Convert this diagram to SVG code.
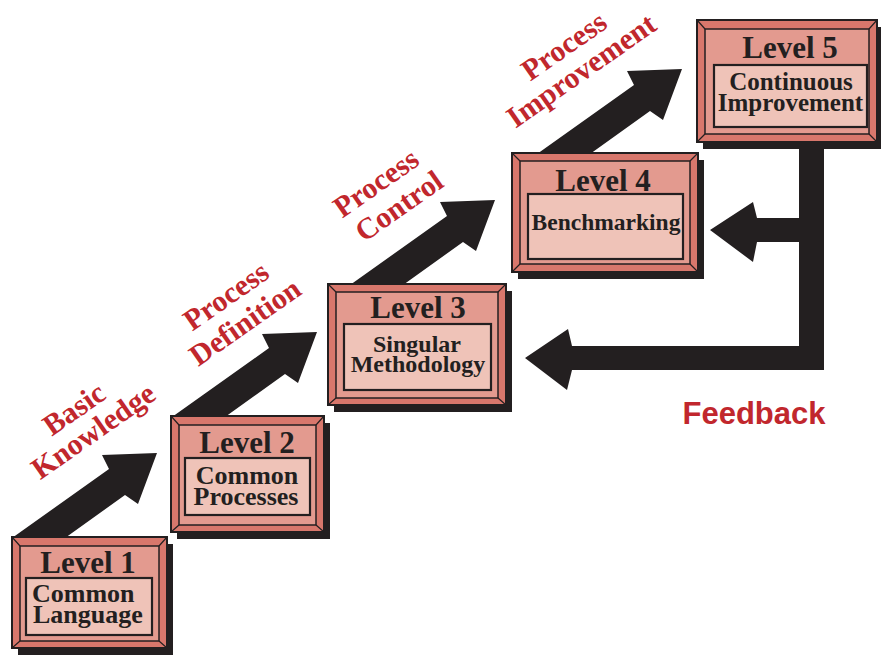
<svg xmlns="http://www.w3.org/2000/svg" width="881" height="656" viewBox="0 0 881 656">
<style>
.dark{fill:#231f20}
.frame{fill:#d8776c;stroke:#231f20;stroke-width:2}
.panel{fill:#e39a8f;stroke:#231f20;stroke-width:1.5}
.tbox{fill:#efc3b8;stroke:#231f20;stroke-width:2.2}
.bev{stroke:#231f20;stroke-width:1.2}
.title{font-family:"Liberation Serif","Times New Roman",serif;font-weight:bold;font-size:31px;fill:#231f20;text-anchor:middle}
.sub{font-family:"Liberation Serif","Times New Roman",serif;font-weight:bold;fill:#231f20;text-anchor:middle}
.lab{font-family:"Liberation Serif","Times New Roman",serif;font-weight:bold;font-size:30px;fill:#c1272d;text-anchor:middle}
.fb{font-family:"Liberation Sans",Arial,sans-serif;font-weight:bold;font-size:31px;fill:#c1272d;text-anchor:middle}
</style>
<defs>
<polygon id="stepArrow" points="0,0 97,-69 90,-83 145,-85 126,-34 113,-43 53,0"/>
</defs>
<rect width="881" height="656" fill="#ffffff"/>

<g id="connectors" class="dark">
<use href="#stepArrow" transform="translate(12,538)"/>
<use href="#stepArrow" transform="translate(172,417)"/>
<use href="#stepArrow" transform="translate(350,285)"/>
<use href="#stepArrow" transform="translate(537,154)"/>
<path id="feedback" d="M799,142 H824 V370 H572 L567,390 L525,358 L568,329 L572,346 H799 V242 H757 L753,262 L710,230 L753,202 L757,218 H799 Z"/>
</g>

<g id="level1">
<rect class="dark" x="18" y="544" width="155" height="111"/>
<rect class="frame" x="12" y="537" width="155" height="111"/>
<rect class="panel" x="20" y="546" width="139" height="95"/>
<path class="bev" d="M12,537 L20,546 M167,537 L159,546 M12,648 L20,641 M167,648 L159,641"/>
<rect class="tbox" x="26" y="578" width="126" height="57"/>
<text class="title" x="88" y="573">Level 1</text>
<text class="sub" style="text-anchor:start" x="32" y="601.5" font-size="26">Common</text>
<text class="sub" style="text-anchor:start" x="33" y="622.5" font-size="26">Language</text>
</g>

<g id="level2">
<rect class="dark" x="177" y="423" width="153" height="116"/>
<rect class="frame" x="171" y="416" width="153" height="116"/>
<rect class="panel" x="179" y="425" width="137" height="100"/>
<path class="bev" d="M171,416 L179,425 M324,416 L316,425 M171,532 L179,525 M324,532 L316,525"/>
<rect class="tbox" x="185" y="458" width="125" height="57"/>
<text class="title" x="247" y="453">Level 2</text>
<text class="sub" x="247" y="484" font-size="26">Common</text>
<text class="sub" x="246" y="504.5" font-size="26">Processes</text>
</g>

<g id="level3">
<rect class="dark" x="334" y="291" width="178" height="121"/>
<rect class="frame" x="328" y="284" width="178" height="121"/>
<rect class="panel" x="336" y="292" width="162" height="106"/>
<path class="bev" d="M328,284 L336,292 M506,284 L498,292 M328,405 L336,398 M506,405 L498,398"/>
<rect class="tbox" x="344" y="324" width="147" height="66"/>
<text class="title" x="418" y="318">Level 3</text>
<text class="sub" x="417" y="352" font-size="24">Singular</text>
<text class="sub" x="418" y="371.5" font-size="24">Methodology</text>
</g>

<g id="level4">
<rect class="dark" x="518" y="160" width="186" height="119"/>
<rect class="frame" x="512" y="153" width="186" height="119"/>
<rect class="panel" x="520" y="161" width="170" height="103"/>
<path class="bev" d="M512,153 L520,161 M698,153 L690,161 M512,272 L520,264 M698,272 L690,264"/>
<rect class="tbox" x="528" y="194" width="155" height="65"/>
<text class="title" x="603" y="191">Level 4</text>
<text class="sub" x="606" y="230" font-size="23.5">Benchmarking</text>
</g>

<g id="level5">
<rect class="dark" x="703" y="27" width="180" height="122"/>
<rect class="frame" x="697" y="20" width="180" height="122"/>
<rect class="panel" x="705" y="29" width="164" height="105"/>
<path class="bev" d="M697,20 L705,29 M877,20 L869,29 M697,142 L705,134 M877,142 L869,134"/>
<rect class="tbox" x="714" y="65" width="153" height="62"/>
<text class="title" x="790" y="58">Level 5</text>
<text class="sub" x="791" y="89.5" font-size="25">Continuous</text>
<text class="sub" x="790.5" y="111" font-size="25">Improvement</text>
</g>

<g id="labels">
<text class="lab" transform="translate(79.7,417.2) rotate(-35)">Basic</text>
<text class="lab" transform="translate(99,439.2) rotate(-35)">Knowledge</text>
<text class="lab" transform="translate(231.7,304.2) rotate(-35)">Process</text>
<text class="lab" transform="translate(250.7,330.2) rotate(-35)">Definition</text>
<text class="lab" transform="translate(381.7,191.2) rotate(-35)">Process</text>
<text class="lab" transform="translate(404.7,214.2) rotate(-35)">Control</text>
<text class="lab" transform="translate(569.7,54.2) rotate(-35)">Process</text>
<text class="lab" transform="translate(587,78.7) rotate(-35)">Improvement</text>
<text class="fb" x="754" y="424">Feedback</text>
</g>
</svg>
